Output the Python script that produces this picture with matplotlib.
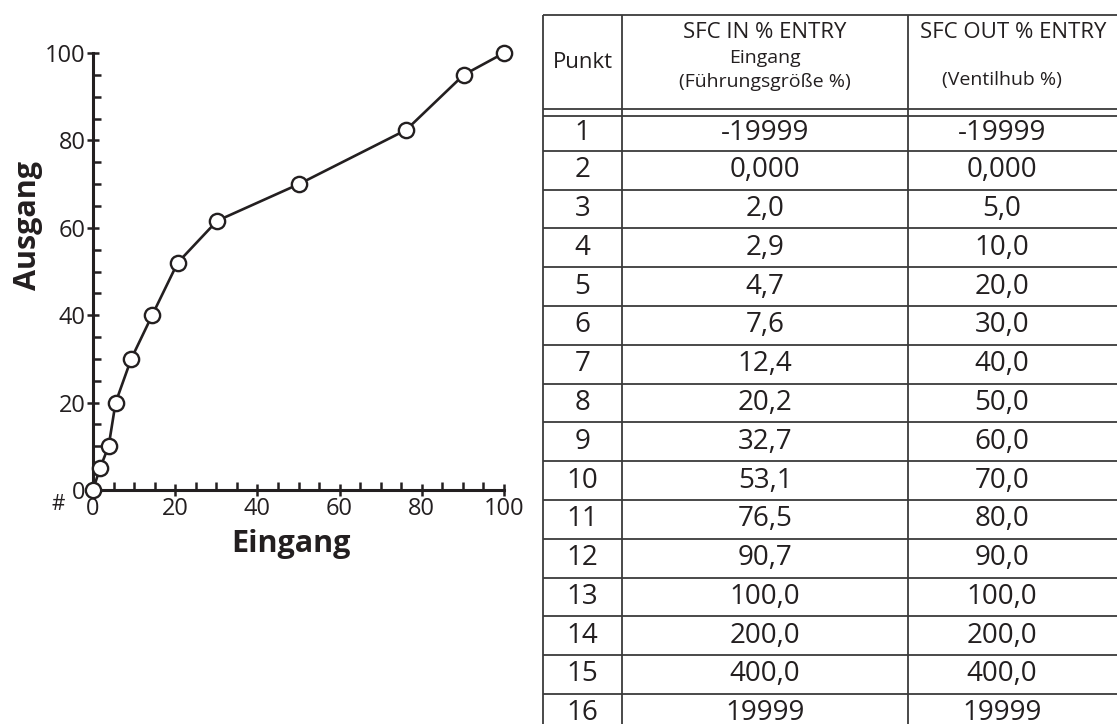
import matplotlib.pyplot as plt
from matplotlib.ticker import MultipleLocator

# curve as drawn in the chart
eingang = [0, 1.7, 3.8, 5.5, 9.3, 14.4, 20.6, 30.2, 50.1, 76.2, 90.2, 100]
ausgang = [0, 5, 10, 20, 30, 40, 52, 61.6, 70, 82.4, 95, 100]

# table contents
punkt = [str(i) for i in range(1, 17)]
sfc_in = ['-19999', '0,000', '2,0', '2,9', '4,7', '7,6', '12,4', '20,2',
          '32,7', '53,1', '76,5', '90,7', '100,0', '200,0', '400,0', '19999']
sfc_out = ['-19999', '0,000', '5,0', '10,0', '20,0', '30,0', '40,0', '50,0',
           '60,0', '70,0', '80,0', '90,0', '100,0', '200,0', '400,0', '19999']

ink = '#231f20'
plt.rcParams['font.family'] = ['Open Sans', 'DejaVu Sans']
plt.rcParams['text.color'] = ink

W, H = 1117, 724
fig = plt.figure(figsize=(W / 100, H / 100), dpi=100)

# chart, placed in pixel units
x0, x1, y0, y1 = 93, 504, 490, 53
ax = fig.add_axes([x0 / W, 1 - y0 / H, (x1 - x0) / W, (y0 - y1) / H])
ax.plot(eingang, ausgang, color=ink, lw=1.9, marker='o', ms=11,
        mfc='white', mec=ink, mew=1.7, clip_on=False, zorder=5)
ax.set_xlim(0, 100)
ax.set_ylim(0, 100)
for s in ['top', 'right']:
    ax.spines[s].set_visible(False)
for s in ['left', 'bottom']:
    ax.spines[s].set_linewidth(2.2)
    ax.spines[s].set_color(ink)
ax.xaxis.set_major_locator(MultipleLocator(20))
ax.xaxis.set_minor_locator(MultipleLocator(5))
ax.yaxis.set_major_locator(MultipleLocator(20))
ax.yaxis.set_minor_locator(MultipleLocator(5))
ax.tick_params(which='major', direction='inout', length=8.5, width=1.8,
               color=ink, labelsize=17, labelcolor=ink, pad=1)
ax.tick_params(which='minor', direction='in', length=5.8, width=1.8, color=ink)
fig.text(58 / W, 1 - 504 / H, '#', fontsize=15, ha='center', va='center')
fig.text(28 / W, 1 - 226 / H, 'Ausgang', fontsize=22, fontweight='bold',
         rotation=90, ha='center', va='center')
fig.text(291 / W, 1 - 544 / H, 'Eingang', fontsize=22, fontweight='bold',
         ha='center', va='center')

# table, drawn on a full-figure overlay in pixel units
tab = fig.add_axes([0, 0, 1, 1])
tab.set_xlim(0, W)
tab.set_ylim(H, 0)
tab.axis('off')
line = '#3a3a3a'
cols = [543, 622, 908]
top = 15
bounds = [150.7 + 38.8 * k for k in range(16)]
row_tops = [115.5] + bounds[:-1]

tab.hlines([top, 109, 115.5] + bounds, cols[0], W, color=line, lw=1.3)
tab.vlines(cols, top, H, color=line, lw=1.3)

tab.text(582.5, 62, 'Punkt', fontsize=16, ha='center', va='center')
tab.text(765, 33, 'SFC IN % ENTRY', fontsize=16, ha='center', va='center')
tab.text(765, 58, 'Eingang', fontsize=14, ha='center', va='center')
tab.text(765, 82, '(Führungsgröße %)', fontsize=14, ha='center', va='center')
tab.text(1013, 33, 'SFC OUT % ENTRY', fontsize=16, ha='center', va='center')
tab.text(1002, 80, '(Ventilhub %)', fontsize=14, ha='center', va='center')

for i, (p, a, b) in enumerate(zip(punkt, sfc_in, sfc_out)):
    yc = (row_tops[i] + bounds[i]) / 2
    tab.text(582.5, yc, p, fontsize=20, ha='center', va='center')
    tab.text(765, yc, a, fontsize=20, ha='center', va='center')
    tab.text(1002, yc, b, fontsize=20, ha='center', va='center')

fig.savefig('out.png', dpi=100)
